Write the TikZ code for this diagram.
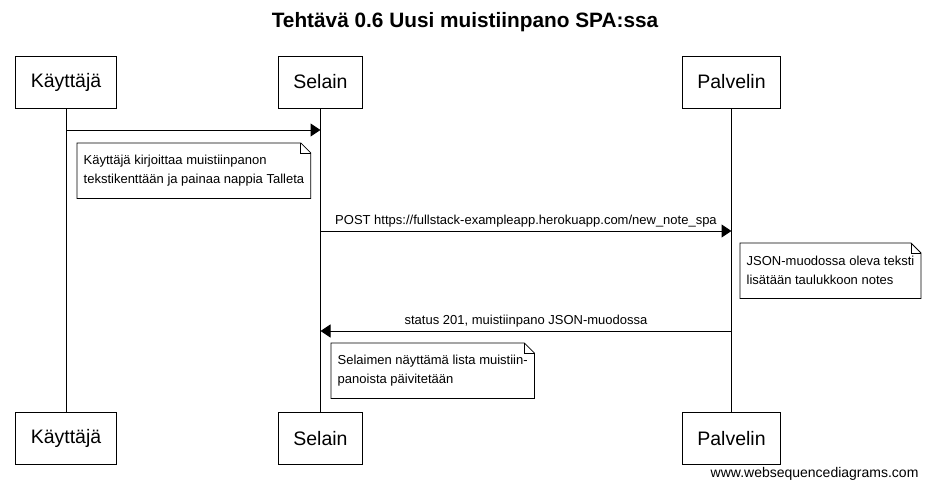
\documentclass[tikz,border=0pt]{standalone}
\usepackage{fontspec}
\setmainfont{Liberation Sans}
\usetikzlibrary{arrows.meta}

\begin{document}
\begin{tikzpicture}[x=1pt,y=1pt,
  actor/.style={draw,line width=1pt,minimum height=52pt,inner xsep=15pt,font=\fontsize{19.5}{23}\selectfont},
  lifeline/.style={line width=1pt},
  msg/.style={line width=1pt,-{Triangle[length=10pt,width=13pt]}},
  msglabel/.style={above,inner sep=3pt,font=\fontsize{13}{16}\selectfont},
  notetext/.style={anchor=north west,align=left,inner xsep=6.5pt,inner ysep=0pt,minimum height=55pt,font=\fontsize{13}{19}\selectfont},
  notebox/.style={line width=0.8pt}]
\useasboundingbox (0,0) rectangle (930,-490);
\node[font=\fontsize{20.8}{25}\selectfont\bfseries] (title) at (465,-22) {Tehtävä 0.6 Uusi muistiinpano SPA:ssa};
\node[actor] (kt) at (66,-82) {Käyttäjä};
\node[actor] (st) at (320.5,-82) {Selain};
\node[actor] (pt) at (731.5,-82) {Palvelin};
\node[actor] (kb) at (66,-438.5) {Käyttäjä};
\node[actor] (sb) at (320.5,-438.5) {Selain};
\node[actor] (pb) at (731.5,-438.5) {Palvelin};
\draw[lifeline] (kt) -- (kb);
\draw[lifeline] (st) -- (sb);
\draw[lifeline] (pt) -- (pb);
\coordinate (k1) at (kt |- 0,-130);
\coordinate (s1) at (st |- 0,-130);
\coordinate (s2) at (st |- 0,-231);
\coordinate (p2) at (pt |- 0,-231);
\coordinate (p3) at (pt |- 0,-331);
\coordinate (s3) at (st |- 0,-331);
\draw[msg] (k1) -- (s1);
\draw[msg] (s2) -- node[msglabel] {POST https://fullstack-exampleapp.herokuapp.com/new\_note\_spa} (p2);
\draw[msg] (p3) -- node[msglabel] {status 201, muistiinpano JSON-muodossa} (s3);
\node[notetext] (n1) at (77,-143) {Käyttäjä kirjoittaa muistiinpanon\\tekstikenttään ja painaa nappia Talleta};
\node[notetext] (n2) at (740,-243) {JSON-muodossa oleva teksti\\lisätään taulukkoon notes};
\node[notetext] (n3) at (331,-343) {Selaimen näyttämä lista muistiin-\\panoista päivitetään};
\foreach \n in {n1,n2,n3} {
  \draw[notebox] (\n.north west) -- ([xshift=-10pt]\n.north east) -- ([yshift=-10pt]\n.north east) -- (\n.south east) -- (\n.south west) -- cycle;
  \draw[notebox] ([xshift=-10pt]\n.north east) |- ([yshift=-10pt]\n.north east);
}
\node[anchor=east,font=\fontsize{14}{17}\selectfont] (wsd) at (922,-474) {www.websequencediagrams.com};
\end{tikzpicture}
\end{document}
